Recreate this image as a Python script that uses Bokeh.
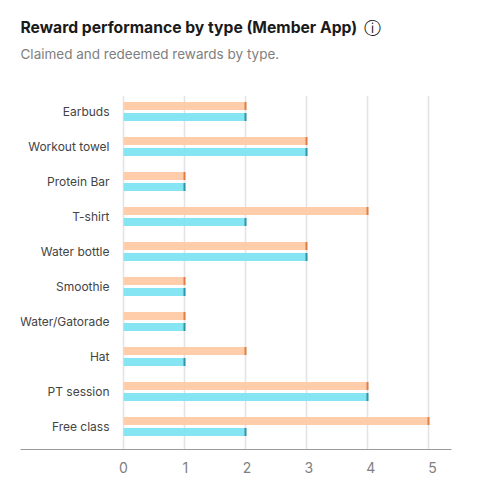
from bokeh.plotting import figure
from bokeh.layouts import column
from bokeh.models import ColumnDataSource, Range1d, LinearAxis, Grid, FixedTicker, Label
from bokeh.transform import dodge
from bokeh.embed import file_html
from bokeh.resources import INLINE

categories = ["Earbuds", "Workout towel", "Protein Bar", "T-shirt", "Water bottle",
              "Smoothie", "Water/Gatorade", "Hat", "PT session", "Free class"]
claimed = [2, 3, 1, 4, 3, 1, 1, 2, 4, 5]
redeemed = [2, 3, 1, 2, 3, 1, 1, 1, 4, 2]
x_ticks = [0, 1, 2, 3, 4, 5]

rows = list(range(len(categories) - 1, -1, -1))
src = ColumnDataSource(dict(row=rows, claimed=claimed, redeemed=redeemed))

FONT = "Inter"

# header panel holding the title texts (its frame lines up with the chart's frame: 20..451)
head = figure(width=472, height=95, output_backend="svg", toolbar_location=None,
              x_range=Range1d(20, 451), y_range=Range1d(95, 0),
              x_axis_location=None, y_axis_location=None,
              min_border_left=0, min_border_right=0, min_border_top=0, min_border_bottom=0,
              outline_line_color=None)
head.xgrid.visible = False
head.ygrid.visible = False
head.add_layout(Label(x=20, y=27, text="Reward performance by type (Member App)", text_font=FONT,
                      text_font_style="bold", text_font_size="15.7px", text_color="#1a1a1a",
                      text_baseline="middle"))
head.add_layout(Label(x=372, y=27, text="ⓘ", text_font="DejaVu Sans", text_font_size="17px",
                      text_color="#1a1a1a", text_align="center", text_baseline="middle"))
head.add_layout(Label(x=20, y=53, text="Claimed and redeemed rewards by type.", text_font=FONT,
                      text_font_size="13.5px", text_color="#808080", text_baseline="middle"))

p = figure(width=472, height=387, output_backend="svg", toolbar_location=None,
           x_range=Range1d(-1.689, 5.377), y_range=Range1d(-0.657, 9.457),
           x_axis_location=None, min_border_left=20, min_border_right=21,
           min_border_top=0, min_border_bottom=33, outline_line_color=None)
p.background_fill_color = "white"
p.ygrid.visible = False
p.xgrid.visible = False

p.add_layout(Grid(dimension=0, ticker=FixedTicker(ticks=x_ticks), grid_line_color="#e4e4e4",
                  grid_line_width=1.6, level="underlay"))

OFF = 0.157
H = 0.225
y_top = dodge("row", OFF, range=p.y_range)
y_bot = dodge("row", -OFF, range=p.y_range)
p.hbar(y=y_top, left=0, right="claimed", height=H, source=src, fill_color="#FFC9A3",
       fill_alpha=0.93, line_color=None)
p.hbar(y=y_bot, left=0, right="redeemed", height=H, source=src, fill_color="#7CE3F2",
       fill_alpha=0.93, line_color=None)
p.rect(x="claimed", y=y_top, width=2, width_units="screen", height=H, source=src,
       fill_color="#DF7F45", line_color=None)
p.rect(x="redeemed", y=y_bot, width=2, width_units="screen", height=H, source=src,
       fill_color="#2F95A8", line_color=None)

# category labels
ya = p.yaxis[0]
ya.fixed_location = 0
ya.ticker = FixedTicker(ticks=rows)
ya.major_label_overrides = {r: c for r, c in zip(rows, categories)}
ya.axis_line_color = None
ya.major_tick_line_color = None
ya.minor_tick_line_color = None
ya.major_label_standoff = 8
ya.major_label_text_font = FONT
ya.major_label_text_font_size = "12px"
ya.major_label_text_color = "#444444"

# value axis
p.extra_x_ranges["ticks"] = Range1d(-1.667, 5.307)
xa = LinearAxis(x_range_name="ticks", ticker=FixedTicker(ticks=x_ticks))
xa.axis_line_color = "#9a9a9a"
xa.axis_line_width = 1
xa.major_tick_line_color = None
xa.minor_tick_line_color = None
xa.major_tick_in = 0
xa.major_tick_out = 0
xa.minor_tick_in = 0
xa.minor_tick_out = 0
xa.major_label_standoff = 12
xa.major_label_text_font = FONT
xa.major_label_text_font_size = "14px"
xa.major_label_text_color = "#808080"
p.add_layout(xa, "below")

layout = column(head, p, spacing=0)
open("out.html", "w").write(file_html(layout, INLINE))
